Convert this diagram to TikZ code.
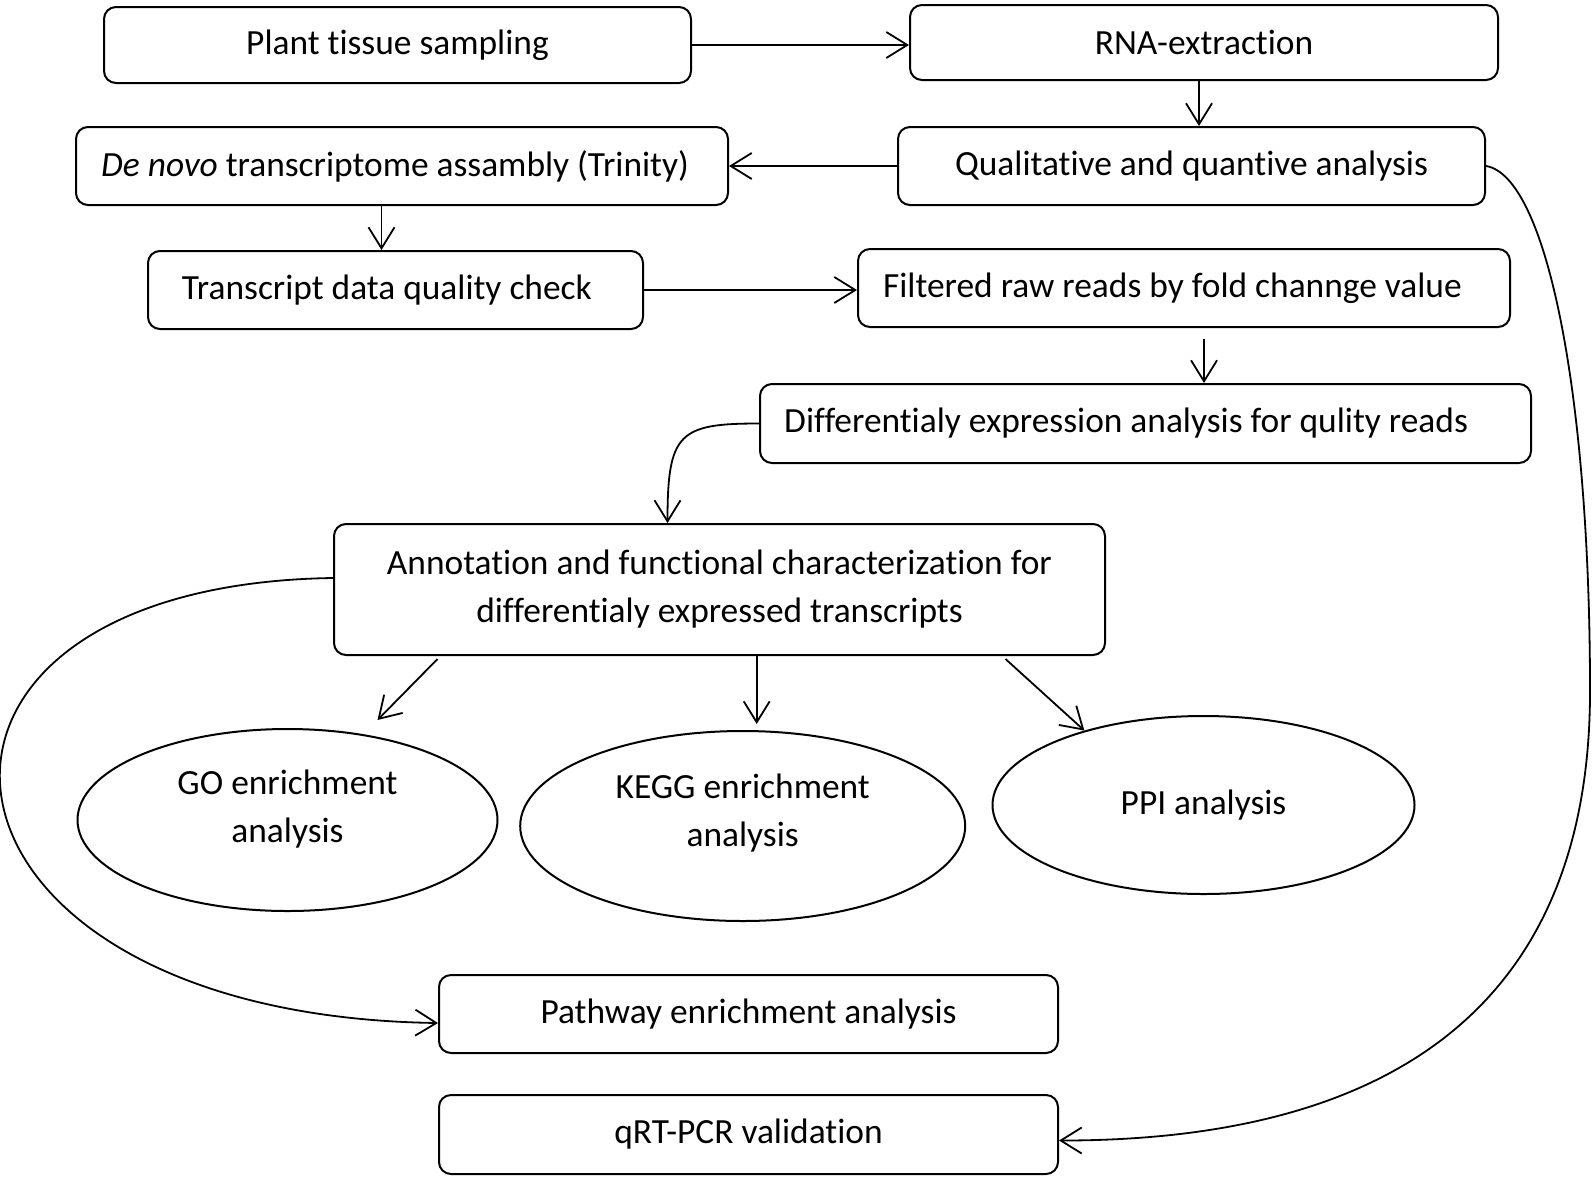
\documentclass[tikz,border=0pt]{standalone}
\usepackage{fontspec}
\setmainfont{Carlito}[Ligatures=NoCommon]
\usetikzlibrary{arrows.meta,shapes.geometric}

\begin{document}
\begin{tikzpicture}[x=0.5pt,y=-0.5pt,
  font=\fontsize{17.7}{24}\selectfont,
  box/.style={draw,rounded corners=6pt,line width=1pt,inner sep=0pt,align=center},
  oval/.style={draw,ellipse,line width=1pt,inner sep=0pt,align=center},
  link/.style={line width=0.9pt,-{Straight Barb[length=10.5pt,width=13pt]}}]
\useasboundingbox (0,0) rectangle (1593,1178);

% boxes
\node[box,minimum width=293.5pt,minimum height=38pt] (plant) at (397.5,45) {Plant tissue sampling};
\node[box,minimum width=294pt,minimum height=37.5pt] (rna) at (1204,42.5) {RNA-extraction};
\node[box,minimum width=293.5pt,minimum height=39pt] (qual) at (1191.5,166) {Qualitative and quantive analysis};
\node[box,minimum width=326pt,minimum height=39pt] (denovo) at (402,166) {\hspace*{-7pt}\textit{De novo} transcriptome assambly (Trinity)};
\node[box,minimum width=247.5pt,minimum height=39pt] (trans) at (395.5,290) {\hspace*{-8.6pt}Transcript data quality check};
\node[box,minimum width=326pt,minimum height=39pt] (filt) at (1184,288) {\hspace*{-11.6pt}Filtered raw reads by fold channge value};
\node[box,minimum width=385.5pt,minimum height=39.5pt] (diff) at (1145.5,423.5) {\hspace*{-19.4pt}Differentialy expression analysis for qulity reads};
\node[box,minimum width=385.5pt,minimum height=65.5pt] (annot) at (719.5,589.5) {Annotation and functional characterization for\\differentialy expressed transcripts};
\node[oval,minimum width=210pt,minimum height=91pt,text depth=14pt] (go) at (287.5,820) {GO enrichment\\analysis};
\node[oval,minimum width=222.5pt,minimum height=95pt,text depth=16pt] (kegg) at (742.7,826) {KEGG enrichment\\analysis};
\node[oval,minimum width=211pt,minimum height=89pt] (ppi) at (1203.5,805) {PPI analysis};
\node[box,minimum width=309.5pt,minimum height=39pt] (path) at (748.5,1014) {Pathway enrichment analysis};
\node[box,minimum width=309.5pt,minimum height=39.5pt] (qrt) at (748.5,1134.5) {qRT-PCR validation};

% connectors
\draw[link] (plant.east) -- (plant.east -| rna.west);
\draw[link] ([xshift=-2.5pt]rna.south) -- ([xshift=-2.5pt]rna.south |- qual.north);
\draw[link] (qual.west) -- (qual.west -| denovo.east);
\draw[link] ([xshift=-7pt]trans.north |- denovo.south) -- ([xshift=-7pt]trans.north);
\draw[link] (trans.east) -- (trans.east -| filt.west);
\draw[link] ([xshift=10pt,yshift=-5.5pt]filt.south) -- ([xshift=10pt]filt.south |- diff.north);
\draw[link] (diff.west) .. controls +(-80,0) and +(0,-90) .. ([xshift=-26pt]annot.north);
\draw[link] ([xshift=-141pt,yshift=-1.5pt]annot.south) -- ([xshift=45pt,yshift=4pt]go.north);
\draw[link] ([xshift=7pt]kegg.north |- annot.south) -- ([xshift=7pt,yshift=3pt]kegg.north);
\draw[link] ([xshift=143pt,yshift=-1.5pt]annot.south) -- (ppi.148);
\draw[link] ([yshift=5.75pt]annot.west) .. controls +(-483,7) and +(-539,-8) .. ([yshift=-4.5pt]path.west);
\draw[link] (qual.east) .. controls +(60,10) and +(0,-300) .. (1590,691)
  .. controls +(0,300) and +(350,0) .. ([yshift=-3pt]qrt.east);
\end{tikzpicture}
\end{document}
